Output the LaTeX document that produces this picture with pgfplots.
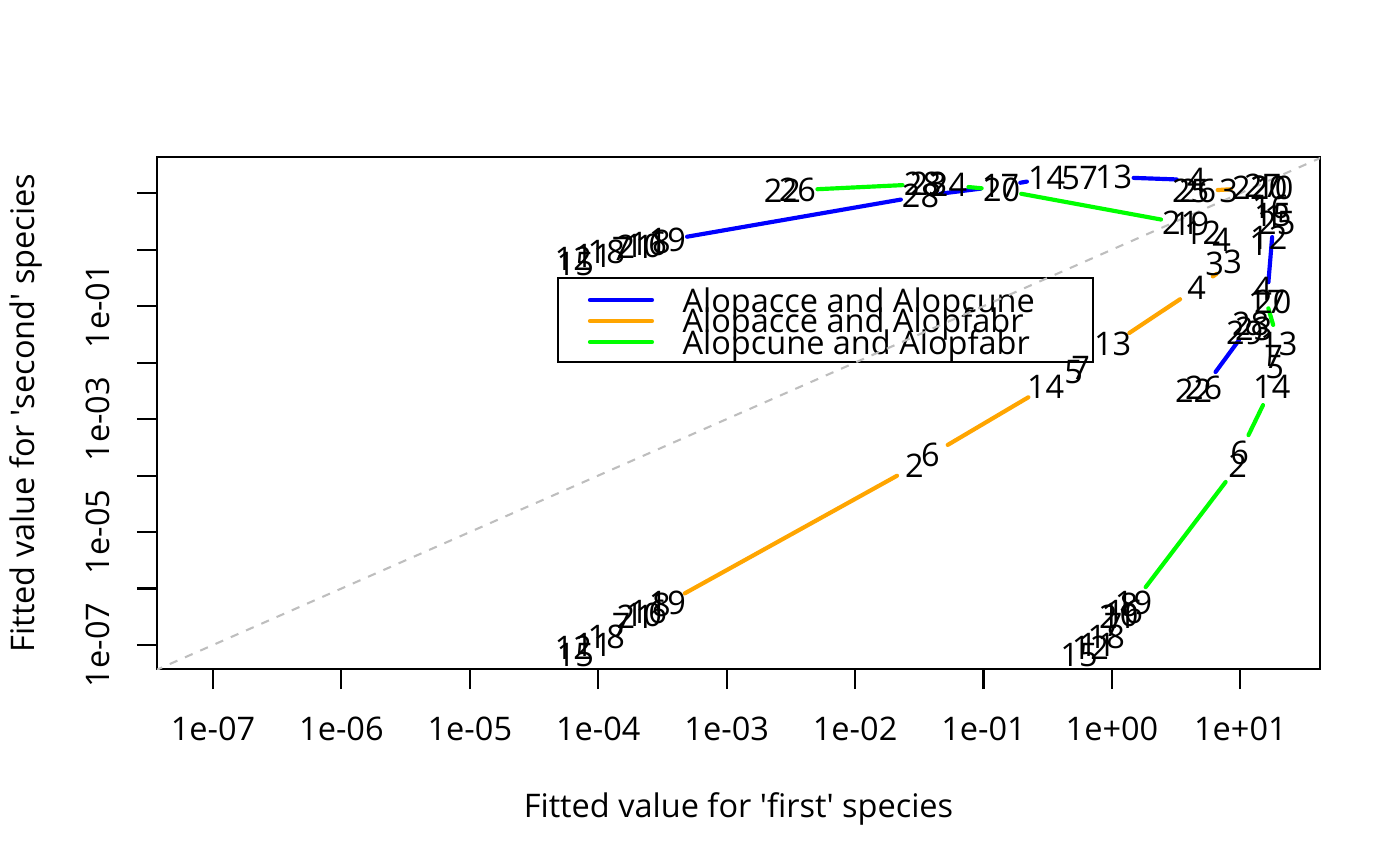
\documentclass[border=0pt]{standalone}
\usepackage{fontspec}
\setmainfont{Open Sans}
\usepackage{pgfplots}
\pgfplotsset{compat=1.18}
\definecolor{rorange}{RGB}{255,165,0}
\definecolor{rgreen}{RGB}{0,255,0}
\definecolor{rblue}{RGB}{0,0,255}
\definecolor{rgrey}{RGB}{190,190,190}
\newcommand{\rf}{\fontsize{11.7}{14}\selectfont}
\pgfplotsset{
  seg/.style={line width=1.5pt, line cap=round, mark=none, shorten <=7.2pt, shorten >=7.2pt},
  lab/.style={only marks, mark=*, mark size=0pt, mark options={draw=none, fill=none},
    nodes near coords, point meta=explicit symbolic, nodes near coords align={center},
    every node near coord/.append style={anchor=center, inner sep=0pt, font=\rf, text=black}},
}
\begin{document}
\rf
\begin{tikzpicture}
\begin{axis}[
  scale only axis, width=418.68pt, height=184.32pt,
  xmode=log, ymode=log,
  xmin=3.664e-8, xmax=41.69, ymin=3.758e-8, ymax=43.65,
  axis line style={line width=0.75pt},
  every tick/.style={black, line width=0.75pt},
  tick align=outside, major tick length=7.2pt,
  tick pos=left,
  xminorticks=false, yminorticks=false,
  xtick={1e-7,1e-6,1e-5,1e-4,1e-3,1e-2,1e-1,1,10},
  xticklabels={1e-07,1e-06,1e-05,1e-04,1e-03,1e-02,1e-01,1e+00,1e+01},
  ytick={1e-7,1e-6,1e-5,1e-4,1e-3,1e-2,1e-1,1,10},
  yticklabels={1e-07,,1e-05,,1e-03,,1e-01,,},
  tick label style={font=\rf},
  xticklabel style={anchor=base, yshift=-18.4pt, inner sep=0pt},
  yticklabel style={xshift=-9.9pt, rotate=90, anchor=base, inner sep=0pt},
  xlabel={Fitted value for \textquotesingle first\textquotesingle\ species},
  ylabel={Fitted value for \textquotesingle second\textquotesingle\ species},
  label style={font=\rf, inner sep=0pt},
  xlabel style={at={(axis description cs:0.5,-0.2900)}, anchor=base},
  ylabel style={at={(axis description cs:-0.1049,0.5)}, anchor=base},
]
% Alopacce and Alopcune
\addplot[seg, rblue] coordinates {(3.45e-4,1.473) (3.231e-2,8.85)};
\addplot[seg, rblue] coordinates {(3.231e-2,8.85) (1.357e-1,13.30)};
\addplot[seg, rblue] coordinates {(1.357e-1,13.30) (3.098e-1,18.43)};
\addplot[seg, rblue] coordinates {(1.031,19.20) (4.570,16.99)};
\addplot[seg, rblue] coordinates {(18.20,3.760) (16.05,0.1177)};
\addplot[seg, rblue] coordinates {(12.04,0.04801) (5.181,0.003537)};
\addplot[lab] table[x=x, y=y, meta=l] {
x y l
6.39e-5 0.679 12
6.62e-5 0.554 15
9.14e-5 0.767 11
1.154e-4 0.903 18
1.511e-4 1.020 7
1.943e-4 1.107 21
2.242e-4 1.153 10
2.453e-4 1.251 16
3.097e-4 1.357 8
3.45e-4 1.473 19
3.231e-2 8.85 28
1.357e-1 13.30 17
3.098e-1 18.43 14
4.766e-1 18.43 5
6.583e-1 18.43 7
1.031 19.20 13
4.570 16.99 4
4.104 10.85 25
8.118 10.85 3
18.20 3.760 1
16.05 0.1177 17
10.81 0.03327 29
12.04 0.04801 28
12.71 0.03916 23
5.181 0.003537 26
4.331 0.003130 22
};
% Alopacce and Alopfabr
\addplot[seg, rorange] coordinates {(3.45e-4,5.54e-7) (2.900e-2,1.473e-4)};
\addplot[seg, rorange] coordinates {(3.866e-2,2.306e-4) (3.043e-1,3.685e-3)};
\addplot[seg, rorange] coordinates {(1.0125,2.126e-2) (4.570,0.2083)};
\addplot[seg, rorange] coordinates {(4.570,0.2083) (8.719,0.6009)};
\addplot[seg, rorange] coordinates {(4.653,10.85) (12.04,12.26)};
\addplot[lab] table[x=x, y=y, meta=l] {
x y l
6.39e-5 8.85e-8 12
6.62e-5 6.65e-8 15
9.14e-5 1.0e-7 11
1.154e-4 1.386e-7 18
1.511e-4 2.259e-7 7
1.943e-4 3.130e-7 21
2.242e-4 3.396e-7 10
2.453e-4 3.838e-7 16
3.097e-4 5.105e-7 8
3.45e-4 5.54e-7 19
2.900e-2 1.473e-4 2
3.866e-2 2.306e-4 6
3.043e-1 3.685e-3 14
5.028e-1 6.790e-3 5
5.702e-1 7.993e-3 7
1.0125 2.126e-2 13
4.570 0.2083 4
8.719 0.6009 3
5.089 1.959 12
7.156 1.473 4
4.653 10.85 26
12.04 12.26 22
14.94 13.30 27
16.63 12.26 20
18.53 12.26 10
};
% Alopcune and Alopfabr
\addplot[seg, rgreen] coordinates {(3.554e-3,11.30) (3.349e-2,14.43)};
\addplot[seg, rgreen] coordinates {(5.339e-2,13.86) (1.382e-1,11.30)};
\addplot[seg, rgreen] coordinates {(1.382e-1,11.30) (3.429,2.944)};
\addplot[seg, rgreen] coordinates {(14.94,0.2) (19.90,2.126e-2)};
\addplot[seg, rgreen] coordinates {(17.55,3.685e-3) (9.886,2.502e-4)};
\addplot[seg, rgreen] coordinates {(9.537,1.473e-4) (1.473,5.54e-7)};
\addplot[lab] table[x=x, y=y, meta=l] {
x y l
0.679 8.85e-8 12
0.554 6.65e-8 15
0.767 1.0e-7 11
0.903 1.386e-7 18
1.020 2.259e-7 7
1.107 3.130e-7 21
1.153 3.396e-7 10
1.251 3.838e-7 16
1.357 5.105e-7 8
1.473 5.54e-7 19
2.716e-3 10.85 22
3.554e-3 11.30 26
3.349e-2 14.43 28
3.729e-2 14.43 23
5.339e-2 13.86 24
1.382e-1 11.30 20
3.429 2.944 21
4.104 2.827 19
17.24 5.651 16
17.87 4.080 15
19.20 2.944 25
16.63 1.598 12
13.90 1.251 1
6.312 0.5538 3
14.94 0.2 4
17.87 0.1177 20
19.90 2.126e-2 13
18.20 1.251e-2 7
18.53 8.326e-3 5
17.55 3.685e-3 14
9.886 2.502e-4 6
9.537 1.473e-4 2
};
% legend
\draw[fill=white, draw=black, line width=0.75pt] (rel axis cs:0.3448,0.5996) rectangle (rel axis cs:0.8048,0.7637);
\draw[rblue, line width=1.5pt, line cap=round] (rel axis cs:0.3723,0.7207) -- (rel axis cs:0.4256,0.7207);
\draw[rorange, line width=1.5pt, line cap=round] (rel axis cs:0.3723,0.6797) -- (rel axis cs:0.4256,0.6797);
\draw[rgreen, line width=1.5pt, line cap=round] (rel axis cs:0.3723,0.6387) -- (rel axis cs:0.4256,0.6387);
\node[anchor=base west, inner sep=0pt, font=\rf] at (rel axis cs:0.4514,0.6973) {Alopacce and Alopcune};
\node[anchor=base west, inner sep=0pt, font=\rf] at (rel axis cs:0.4514,0.6563) {Alopacce and Alopfabr};
\node[anchor=base west, inner sep=0pt, font=\rf] at (rel axis cs:0.4514,0.6152) {Alopcune and Alopfabr};
% y = x reference line
\addplot[rgrey, line width=0.75pt, dash pattern=on 3pt off 3pt, mark=none] coordinates {(1e-9,1e-9) (1e3,1e3)};
\end{axis}
\pgfresetboundingbox
\path[use as bounding box] ([shift={(-56.52pt,-70.92pt)}]current axis.south west) rectangle ([shift={(28.8pt,56.52pt)}]current axis.north east);
\end{tikzpicture}
\end{document}
